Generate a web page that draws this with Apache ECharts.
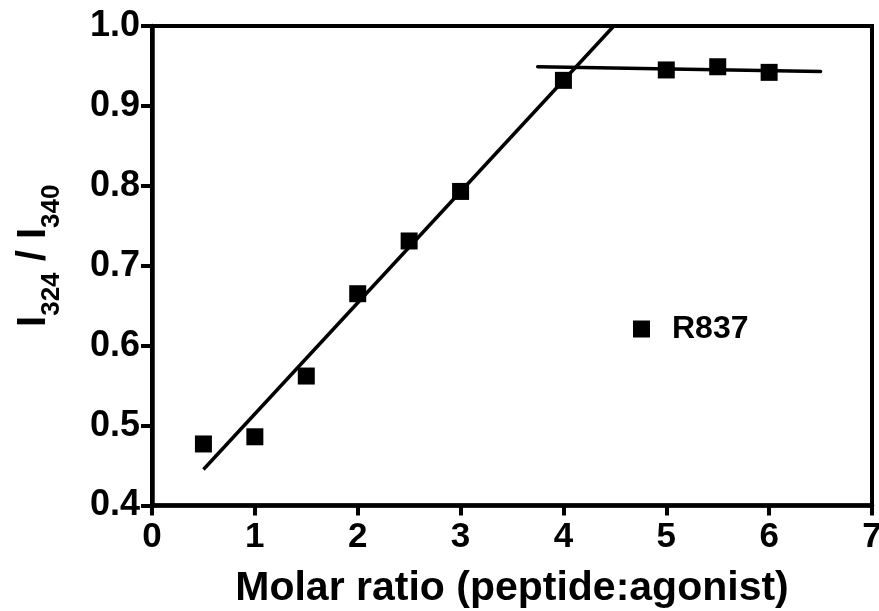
<!DOCTYPE html>
<html>
<head>
<meta charset="utf-8">
<script src="https://cdn.jsdelivr.net/npm/echarts@6/dist/echarts.min.js"></script>
<style>
html,body{margin:0;padding:0;background:#fff;}
#chart{width:879px;height:611px;}
</style>
</head>
<body>
<div id="chart"></div>
<script>
// Data
var ratioX = [0.5, 1.0, 1.5, 2.0, 2.5, 3.0, 4.0, 5.0, 5.5, 6.0];
var intensityY = [0.477, 0.486, 0.562, 0.665, 0.731, 0.793, 0.932, 0.945, 0.949, 0.942];
var fitRiseX = [0.5, 4.49];
var fitRiseY = [0.445, 1.0];
var fitPlateauX = [3.75, 6.5];
var fitPlateauY = [0.949, 0.943];
var xTicks = [0, 1, 2, 3, 4, 5, 6, 7];
var yTicks = [0.4, 0.5, 0.6, 0.7, 0.8, 0.9, 1.0];
var seriesName = 'R837';

function pairs(xs, ys) { return xs.map(function (x, i) { return [x, ys[i]]; }); }

var FONT = '"Liberation Sans", Arial, Helvetica, sans-serif';
var chart = echarts.init(document.getElementById('chart'));
chart.setOption({
  animation: false,
  backgroundColor: '#fff',
  textStyle: { fontFamily: FONT },
  grid: {
    left: 152, right: 7, top: 26, bottom: 105.5,
    outerBoundsMode: 'none', containLabel: false,
    show: true, borderColor: '#000', borderWidth: 4, backgroundColor: 'transparent'
  },
  legend: {
    data: [{ name: seriesName, icon: 'rect', itemStyle: { color: '#000', opacity: 1 } }],
    left: 628, top: 308,
    itemWidth: 17, itemHeight: 17,
    textStyle: { fontSize: 32, fontWeight: 'bold', color: '#000', fontFamily: FONT, padding: [0, 0, 0, 17] },
    selectedMode: false
  },
  xAxis: {
    type: 'value', min: xTicks[0], max: xTicks[xTicks.length - 1], interval: 1,
    name: 'Molar ratio (peptide:agonist)', nameLocation: 'middle', nameGap: 63,
    nameTextStyle: { fontSize: 41, fontWeight: 'bold', color: '#000', fontFamily: FONT },
    axisLine: { show: true, lineStyle: { color: '#000', width: 4.5 } },
    axisTick: { show: true, length: 10, lineStyle: { color: '#000', width: 4 } },
    axisLabel: { fontSize: 35, fontWeight: 'bold', color: '#000', margin: 14, fontFamily: FONT },
    splitLine: { show: false }
  },
  yAxis: {
    type: 'value', min: yTicks[0], max: yTicks[yTicks.length - 1], interval: 0.1,
    name: '{m|I}{s|324}{m| / I}{s|340}', nameLocation: 'middle', nameGap: 98, nameRotate: 90,
    nameTextStyle: {
      color: '#000', fontFamily: FONT, padding: [0, 0, 0, 20],
      rich: {
        m: { fontSize: 40, fontWeight: 'bold', lineHeight: 40, verticalAlign: 'top', color: '#000', fontFamily: FONT },
        s: { fontSize: 26, fontWeight: 'bold', lineHeight: 26, verticalAlign: 'top', padding: [25, 0, 0, 0], color: '#000', fontFamily: FONT }
      }
    },
    axisLine: { show: true, lineStyle: { color: '#000', width: 4.5 } },
    axisTick: { show: true, length: 11, lineStyle: { color: '#000', width: 4 } },
    axisLabel: {
      fontSize: 36, fontWeight: 'bold', color: '#000', margin: 12, fontFamily: FONT,
      formatter: function (v) { return v.toFixed(1); }
    },
    splitLine: { show: false }
  },
  series: [
    {
      type: 'line', name: 'fit1', data: pairs(fitRiseX, fitRiseY),
      symbol: 'none', lineStyle: { color: '#000', width: 3.5 }, z: 2, silent: true
    },
    {
      type: 'line', name: 'fit2', data: pairs(fitPlateauX, fitPlateauY),
      symbol: 'none', lineStyle: { color: '#000', width: 3.5, cap: 'round' }, z: 2, silent: true
    },
    {
      type: 'scatter', name: seriesName, data: pairs(ratioX, intensityY),
      symbol: 'rect', symbolSize: 17, itemStyle: { color: '#000', opacity: 1 }, z: 3
    }
  ]
});
</script>
</body>
</html>
